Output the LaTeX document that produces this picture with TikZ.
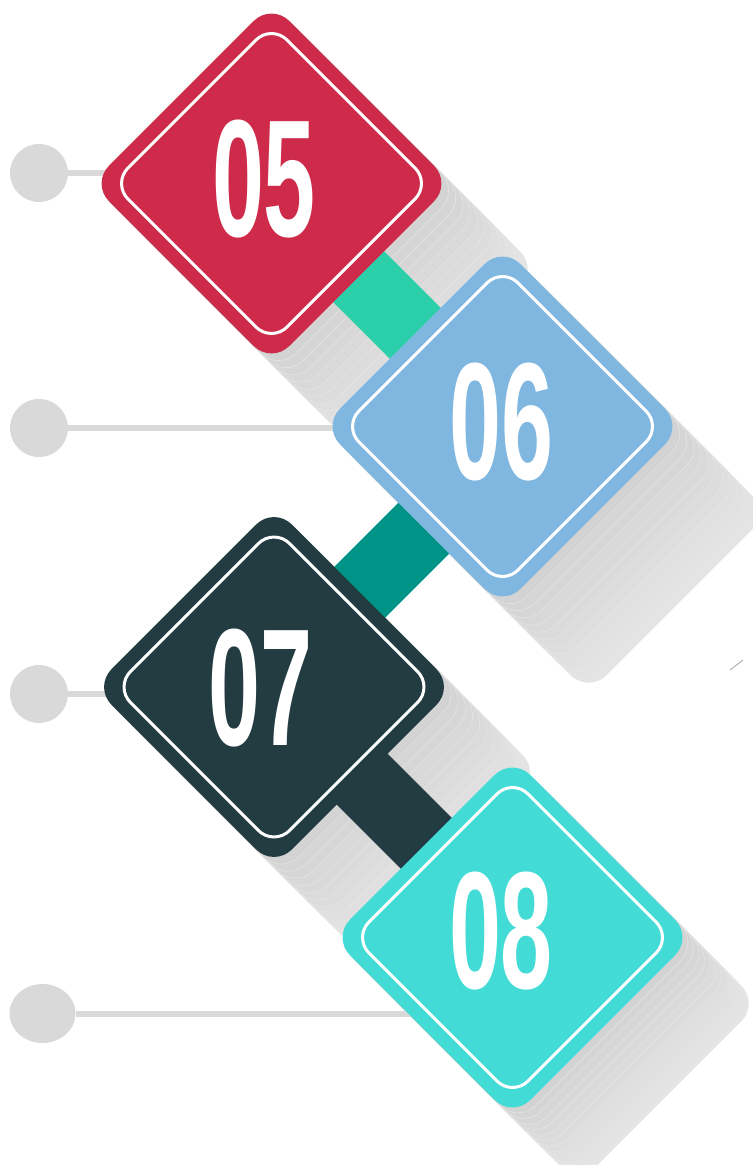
\documentclass[tikz,border=0pt]{standalone}
\usepackage{graphicx}
\usepackage{fontspec}
\newfontfamily\numfont{Liberation Sans}
\usetikzlibrary{shapes.geometric}

\definecolor{tileRed}{HTML}{CE2B4A}
\definecolor{tileBlue}{HTML}{7FB7E1}
\definecolor{tileSlate}{HTML}{233C42}
\definecolor{tileCyan}{HTML}{43DBD6}
\definecolor{barGreen}{HTML}{2BD0AB}
\definecolor{barTeal}{HTML}{009488}
\definecolor{stemGray}{HTML}{D9D9D9}
\definecolor{ghostSeam}{HTML}{E6E6E6}
% 阴影层颜色（近深远浅）
\definecolor{shade1}{HTML}{D3D3D3}
\definecolor{shade2}{HTML}{D5D5D5}
\definecolor{shade3}{HTML}{D6D6D6}
\definecolor{shade4}{HTML}{D8D8D8}
\definecolor{shade5}{HTML}{D9D9D9}
\definecolor{shade6}{HTML}{DBDBDB}
\definecolor{shade7}{HTML}{DCDCDC}
\definecolor{shade8}{HTML}{DEDEDE}
\definecolor{shade9}{HTML}{E0E0E0}
\definecolor{shade10}{HTML}{E1E1E1}
\definecolor{shade11}{HTML}{E3E3E3}
\definecolor{shade12}{HTML}{E4E4E4}

\tikzset{
  tile/.style={rectangle, rotate=45, minimum size=5.1cm, rounded corners=0.5cm, inner sep=0pt},
  rim/.style={rectangle, rotate=45, minimum size=4.5cm, rounded corners=0.44cm, inner sep=0pt, draw=white, line width=0.06cm},
  ghost/.style={tile, draw=ghostSeam, line width=0.3pt},
  num/.style={text=white, inner sep=0pt, font=\numfont\bfseries\fontsize{95}{95}\selectfont},
  bar/.style={line width=1.44cm},
  stem/.style={draw=stemGray, line width=0.12cm},
  dot/.style={circle, fill=stemGray, minimum size=1.16cm, inner sep=0pt},
}

\begin{document}
\begin{tikzpicture}[x=0.02cm, y=-0.02cm]
	\useasboundingbox (0,0) rectangle (752,1165);
	
	% 卡片中心
	\coordinate (p5) at (271.5,183.5);
	\coordinate (p6) at (502.5,426.5);
	\coordinate (p7) at (274,687);
	\coordinate (p8) at (512.5,937.5);
	
	% 左侧圆点与引线
	\node[dot] (c1) at (39,173) {};
	\node[dot] (c2) at (39,428) {};
	\node[dot] (c3) at (39,694) {};
	\node[dot, ellipse, minimum width=1.32cm, minimum height=1.18cm] (c4) at (42.5,1013.5) {};
	\draw[stem] (c1) -- (c1 -| p5);
	\draw[stem] (c2) -- (c2 -| p6);
	\draw[stem] (c3) -- (c3 -| p7);
	\draw[stem] (c4) -- (c4 -| p8);
	
	% 长阴影
	\foreach \t/\len in {5/86,6/86,7/86,8/66}
		\foreach \k in {12,11,...,1}
			\node[ghost, fill=shade\k] (s\t-\k) at ([shift={(\k*\len/12,\k*\len/12)}]p\t) {};
	\draw[black!30, line width=0.02cm] (730,670) -- (743,660);
	
	% 连接条
	\draw[bar, barGreen] ([shift={(-3.5,2.5)}]p5) -- ([shift={(3,-3)}]p6);
	\draw[bar, barTeal] ([shift={(11.5,11.5)}]p6) -- ([shift={(-4.5,-4.5)}]p7);
	\draw[bar, tileSlate] ([shift={(-2,2)}]p7) -- ([shift={(4,-4)}]p8);
	
	% === 菱形卡片 ===
	\node[tile, fill=tileRed] (d5) at (p5) {};
	\node[tile, fill=tileBlue] (d6) at (p6) {};
	\node[tile, fill=tileSlate] (d7) at (p7) {};
	\node[tile, fill=tileCyan] (d8) at (p8) {};
	\foreach \t in {5,...,8}
		\node[rim] (r\t) at (d\t) {};
	
	% 编号
	\node[num] (n5) at ([shift={(-7.5,-4)}]d5) {\scalebox{0.56}[1]{05}};
	\node[num] (n6) at ([shift={(-1,-4)}]d6) {\scalebox{0.56}[1]{06}};
	\node[num] (n7) at ([shift={(-13.5,1)}]d7) {\scalebox{0.56}[1]{07}};
	\node[num] (n8) at ([shift={(-11.5,-6.5)}]d8) {\scalebox{0.56}[1]{08}};
\end{tikzpicture}
\end{document}
